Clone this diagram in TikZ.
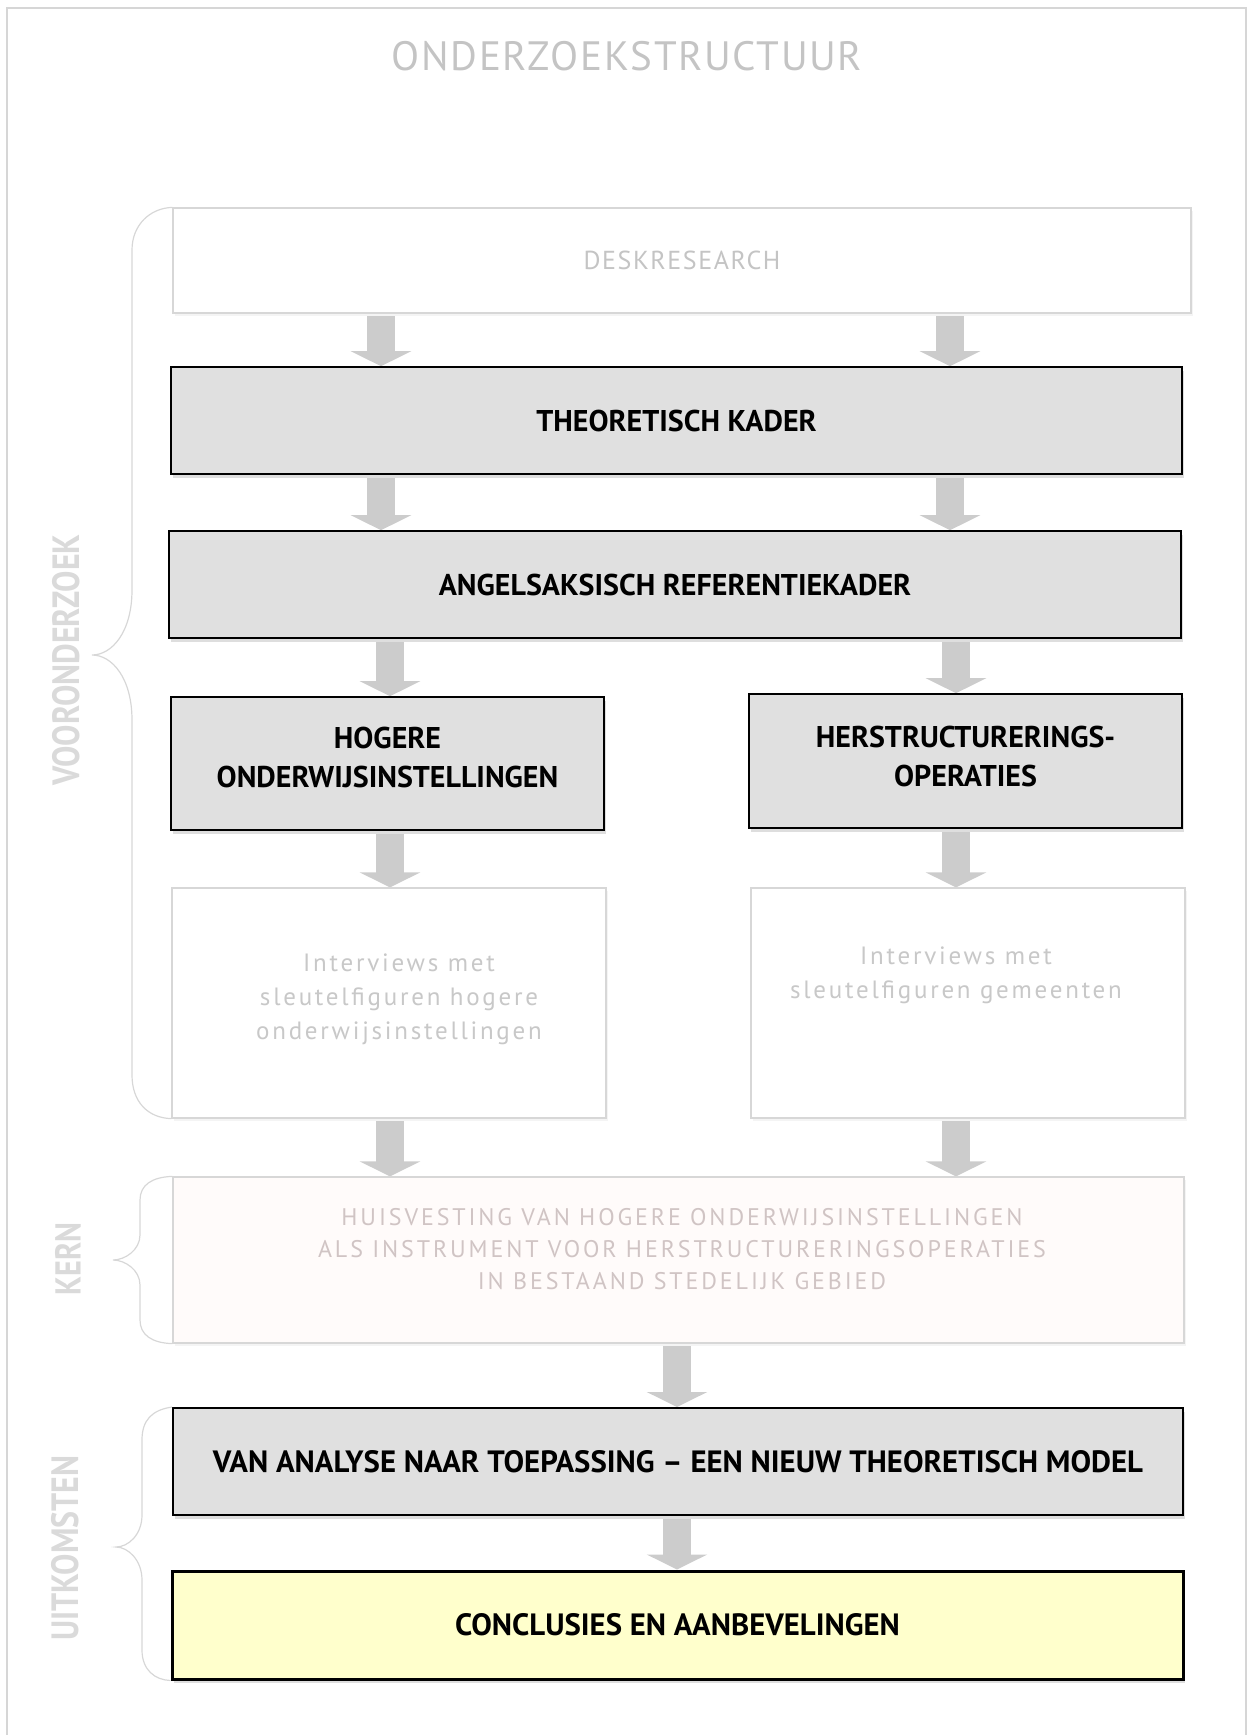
\documentclass[tikz,border=0pt]{standalone}
\usepackage{fontspec}
\setmainfont{PT Sans}
\newfontfamily\titlefont{PT Sans}[LetterSpace=4]
\newfontfamily\deskfont{PT Sans}[LetterSpace=6]
\newfontfamily\kernfont{PT Sans}[LetterSpace=12]
\newfontfamily\intfont{PT Sans}[LetterSpace=11]
\newfontfamily\sidefont{PT Sans Bold}[FakeStretch=0.84]
\usetikzlibrary{arrows.meta,shadows}
\pgfdeclarelayer{background}
\pgfsetlayers{background,main}
\definecolor{boxgray}{RGB}{224,224,224}
\definecolor{arrowgray}{RGB}{204,204,204}
\definecolor{framegray}{RGB}{214,214,214}
\definecolor{lightborder}{RGB}{215,215,215}
\definecolor{titlegray}{RGB}{196,196,196}
\definecolor{labelgray}{RGB}{218,218,218}
\definecolor{inttextgray}{RGB}{200,200,200}
\definecolor{kernfill}{RGB}{255,251,250}
\definecolor{kerntextcol}{RGB}{208,196,196}
\definecolor{yellowfill}{RGB}{255,255,204}
\definecolor{shadowgray}{RGB}{222,222,222}
\definecolor{lightshadow}{RGB}{244,244,244}
\tikzset{
  darkbox/.style={draw=black, line width=1.6pt, fill=boxgray, inner sep=0pt,
    font=\bfseries\fontsize{30}{39}\selectfont, align=center,
    drop shadow={shadow xshift=2pt,shadow yshift=-4pt,fill=shadowgray,opacity=1}},
  lightbox/.style={draw=lightborder, line width=1.2pt, fill=white, inner sep=0pt,
    drop shadow={shadow xshift=2pt,shadow yshift=-3pt,fill=lightshadow,opacity=1}},
  kernbox/.style={lightbox, fill=kernfill},
  boldtext/.style={inner sep=0pt, align=center, font=\bfseries\fontsize{30}{39}\selectfont},
  inttext/.style={inner sep=0pt, align=center, text=inttextgray, font=\intfont\fontsize{25}{34}\selectfont},
  kerntext/.style={inner sep=0pt, align=center, text=kerntextcol, font=\kernfont\fontsize{24}{32}\selectfont},
  sidelabel/.style={inner sep=0pt, text=labelgray, font=\sidefont\fontsize{38}{38}\selectfont, rotate=90},
  bigarrow/.style={draw=arrowgray, line width=28pt, -{Triangle[width=60pt,length=15pt]}},
  bracestyle/.style={draw=lightborder, line width=1.2pt},
}
\begin{document}
\begin{tikzpicture}[x=1pt,y=-1pt]
\useasboundingbox (0,0) rectangle (1247,1735);
\draw[framegray, line width=1.5pt] (7,1745) -- (7,8) -- (1246,8) -- (1246,1745);

\node[inner sep=0pt, text=titlegray, font=\titlefont\fontsize{41}{41}\selectfont] (title) at (627,56) {ONDERZOEKSTRUCTUUR};

\node[lightbox, minimum width=1018pt, minimum height=105pt, text=titlegray, font=\deskfont\fontsize{26}{26}\selectfont] (desk) at (682,260.5) {DESKRESEARCH};
\node[darkbox, minimum width=1011pt, minimum height=107pt] (theo) at (676.5,420.5) {THEORETISCH KADER};
\node[darkbox, minimum width=1012pt, minimum height=107pt] (angel) at (675,584.5) {ANGELSAKSISCH REFERENTIEKADER};
\node[darkbox, minimum width=433pt, minimum height=133pt] (hog) at (387.5,763.5) {};
\node[boldtext] (hogtext) at (387.5,757.5) {HOGERE\\ONDERWIJSINSTELLINGEN};
\node[darkbox, minimum width=433pt, minimum height=134pt] (her) at (965.5,761) {};
\node[boldtext] (hertext) at (965.5,756) {HERSTRUCTURERINGS-\\OPERATIES};
\node[lightbox, minimum width=434pt, minimum height=230pt] (intL) at (389,1003) {};
\node[inttext] (intLtext) at (399,999) {Interviews met\\sleutelfiguren hogere\\onderwijsinstellingen};
\node[lightbox, minimum width=434pt, minimum height=230pt] (intR) at (968,1003) {};
\node[inttext] (intRtext) at (956,975) {Interviews met\\sleutelfiguren gemeenten};
\node[kernbox, minimum width=1011pt, minimum height=166pt] (kern) at (678.5,1260) {};
\node[kerntext] (kerntext) at (682,1249) {HUISVESTING VAN HOGERE ONDERWIJSINSTELLINGEN\\ALS INSTRUMENT VOOR HERSTRUCTURERINGSOPERATIES\\IN BESTAAND STEDELIJK GEBIED};
\node[darkbox, line width=2pt, minimum width=1010pt, minimum height=107pt, font=\bfseries\fontsize{30.8}{39}\selectfont] (van) at (678,1461.5) {VAN ANALYSE NAAR TOEPASSING – EEN NIEUW THEORETISCH MODEL};
\node[darkbox, fill=yellowfill, line width=3pt, minimum width=1011pt, minimum height=108pt, font=\bfseries\fontsize{30.8}{39}\selectfont] (concl) at (677.5,1625) {CONCLUSIES EN AANBEVELINGEN};

\node[sidelabel] (lvoor) at (66,660) {VOORONDERZOEK};
\node[sidelabel, font=\sidefont\fontsize{36}{36}\selectfont] (lkern) at (68,1259) {KERN};
\node[sidelabel] (luit) at (65,1548) {UITKOMSTEN};

\coordinate (a1L) at (381,0);
\coordinate (a1R) at (950,0);
\coordinate (a3L) at (390,0);
\coordinate (a3R) at (956,0);
\coordinate (a6) at (677,0);

\begin{pgfonlayer}{background}
\draw[bigarrow] (desk.south -| a1L) -- (theo.north -| a1L);
\draw[bigarrow] (desk.south -| a1R) -- (theo.north -| a1R);
\draw[bigarrow] (theo.south -| a1L) -- (angel.north -| a1L);
\draw[bigarrow] (theo.south -| a1R) -- (angel.north -| a1R);
\draw[bigarrow] (angel.south -| a3L) -- (hog.north -| a3L);
\draw[bigarrow] (angel.south -| a3R) -- (her.north -| a3R);
\draw[bigarrow] (hog.south -| a3L) -- (intL.north -| a3L);
\draw[bigarrow] (her.south -| a3R) -- (intR.north -| a3R);
\draw[bigarrow] (intL.south -| a3L) -- (kern.north -| a3L);
\draw[bigarrow] (intR.south -| a3R) -- (kern.north -| a3R);
\draw[bigarrow] (kern.south -| a6) -- (van.north -| a6);
\draw[bigarrow] (van.south -| a6) -- (concl.north -| a6);
\end{pgfonlayer}

\draw[bracestyle] (desk.north west) .. controls (150,208) and (132,225) .. (132,250) -- (132,590)
  .. controls (132,632) and (112,655) .. (92,655)
  .. controls (112,655) and (132,678) .. (132,720) -- (132,1075)
  .. controls (132,1102) and (148,1118) .. (intL.south west);
\draw[bracestyle] (kern.north west) .. controls (152,1177) and (140,1185) .. (140,1200) -- (140,1235)
  .. controls (140,1250) and (125,1260) .. (113,1260)
  .. controls (125,1260) and (140,1270) .. (140,1285) -- (140,1320)
  .. controls (140,1335) and (152,1343) .. (kern.south west);
\draw[bracestyle] (van.north west) .. controls (152,1410) and (142,1420) .. (142,1440) -- (142,1515)
  .. controls (142,1535) and (128,1547) .. (116,1547)
  .. controls (128,1547) and (142,1560) .. (142,1580) -- (142,1650)
  .. controls (142,1670) and (155,1680) .. (concl.south west);
\end{tikzpicture}
\end{document}
